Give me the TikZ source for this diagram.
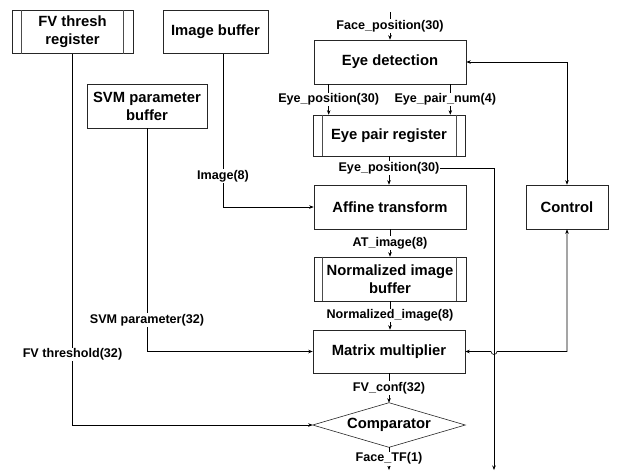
\documentclass[tikz,border=0pt]{standalone}
\usepackage{fontspec}
\setmainfont{Liberation Sans}
\usetikzlibrary{arrows.meta,calc}
\begin{document}
\begin{tikzpicture}[x=1pt,y=-1pt,
  blk/.style={draw=black!85, line width=0.6pt, inner sep=0pt, align=center,
    font=\bfseries\fontsize{14.8}{18}\selectfont},
  lbl/.style={fill=white, inner sep=1pt, font=\bfseries\fontsize{12.6}{14}\selectfont},
  arr/.style={line width=0.6pt, -{Stealth[length=4.5pt,width=3.5pt]}},
  darr/.style={line width=0.6pt, {Stealth[length=4.5pt,width=3.5pt]}-{Stealth[length=4.5pt,width=3.5pt]}},
  inl/.style={line width=0.5pt, draw=black!70}]
\useasboundingbox (0,0) rectangle (621,472);

% blocks
\node[blk, minimum width=121pt, minimum height=43pt] (fvreg) at (72.5,32) {FV thresh\\register};
\node[blk, minimum width=105pt, minimum height=43pt] (imgbuf) at (215.5,32) {Image buffer};
\node[blk, minimum width=120pt, minimum height=44pt] (svmbuf) at (147,106) {SVM parameter\\buffer};
\node[blk, minimum width=152pt, minimum height=44pt] (eyedet) at (390,62) {Eye detection};
\node[blk, minimum width=152pt, minimum height=41pt] (eyepair) at (389,135.5) {Eye pair register};
\node[blk, minimum width=152pt, minimum height=44pt] (affine) at (390,207) {Affine transform};
\node[blk, minimum width=82pt, minimum height=44pt] (control) at (567,207) {Control};
\node[blk, minimum width=152pt, minimum height=44pt] (normbuf) at (390,279) {Normalized image\\buffer};
\node[blk, minimum width=152pt, minimum height=43pt] (matmul) at (389,351.5) {Matrix multiplier};
\node[blk, draw=none, minimum width=152pt, minimum height=44pt] (comp) at (389,425) {Comparator};
\draw[line width=0.6pt, draw=black!85] (comp.west) -- (comp.north) -- (comp.east) -- (comp.south) -- cycle;

% register inner lines
\draw[inl] ([xshift=10pt]fvreg.north west) -- ([xshift=10pt]fvreg.south west);
\draw[inl] ([xshift=-10pt]fvreg.north east) -- ([xshift=-10pt]fvreg.south east);
\draw[inl] ([xshift=10pt]eyepair.north west) -- ([xshift=10pt]eyepair.south west);
\draw[inl] ([xshift=-9pt]eyepair.north east) -- ([xshift=-9pt]eyepair.south east);
\draw[inl] ([xshift=9pt]normbuf.north west) -- ([xshift=9pt]normbuf.south west);
\draw[inl] ([xshift=-10pt]normbuf.north east) -- ([xshift=-10pt]normbuf.south east);

% coordinates
\coordinate (ftop) at (390,12);
\coordinate (epbranch) at (389,168);
\coordinate (epout) at (494,470);
\coordinate (tfout) at (389,470);
\coordinate (hopL) at (491,351.5);

% branch of eye position
\draw[arr] (epbranch) -| (epout);

% connectors
\draw[arr] (ftop) -- (eyedet.north) node[lbl, midway] {Face\_position(30)};
\draw[arr] ([xshift=15pt]eyedet.south west) -- ([xshift=15pt]eyedet.south west |- eyepair.north)
  node[lbl, midway] {Eye\_position(30)};
\draw[arr] ([xshift=-16pt]eyedet.south east) -- ([xshift=-16pt]eyedet.south east |- eyepair.north)
  node[lbl, midway, xshift=-5pt] {Eye\_pair\_num(4)};
\draw[arr] (eyepair.south) -- (eyepair.south |- affine.north) node[lbl, pos=0.42] {Eye\_position(30)};
\draw[arr] ([xshift=7.5pt]imgbuf.south) |- (affine.west) node[lbl, pos=0.4] {Image(8)};
\draw[arr] (svmbuf.south) |- (matmul.west) node[lbl, pos=0.43] {SVM parameter(32)};
\draw[arr] (fvreg.south) |- (comp.west) node[lbl, pos=0.405] {FV threshold(32)};
\draw[arr] (affine.south) -- (normbuf.north) node[lbl, midway] {AT\_image(8)};
\draw[arr] (normbuf.south) -- (normbuf.south |- matmul.north) node[lbl, midway] {Normalized\_image(8)};
\draw[arr] (matmul.south) -- (comp.north) node[lbl, midway] {FV\_conf(32)};
\draw[arr] (comp.south) -- (tfout) node[lbl, midway] {Face\_TF(1)};
\draw[darr] (eyedet.east) -| (control.north);
\draw[darr] (matmul.east) -- (hopL) arc[start angle=180, end angle=360, radius=3pt]
  -- (control.south |- matmul.east) -- (control.south);
\end{tikzpicture}
\end{document}
